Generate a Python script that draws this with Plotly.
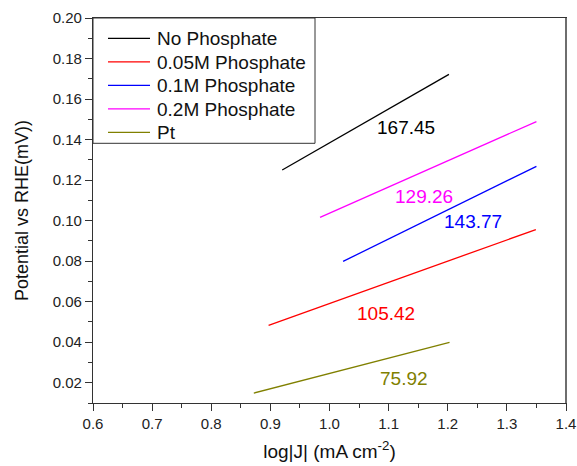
import plotly.graph_objects as go

series_names = ["No Phosphate", "0.05M Phosphate", "0.1M Phosphate", "0.2M Phosphate", "Pt"]
series_colors = ["#000000", "#ff0000", "#0000ff", "#ff00ff", "#808000"]
x_no_phos = [0.920, 1.202]
y_no_phos = [0.1250, 0.1722]
x_005 = [0.897, 1.349]
y_005 = [0.0483, 0.0956]
x_01 = [1.023, 1.350]
y_01 = [0.0799, 0.1268]
x_02 = [0.984, 1.350]
y_02 = [0.1016, 0.1489]
x_pt = [0.872, 1.203]
y_pt = [0.0149, 0.0399]

slope_labels = ["167.45", "105.42", "143.77", "129.26", "75.92"]
label_x = [1.130, 1.095, 1.242, 1.160, 1.126]
label_y = [0.146, 0.0544, 0.0994, 0.112, 0.022]

xs = [x_no_phos, x_005, x_01, x_02, x_pt]
ys = [y_no_phos, y_005, y_01, y_02, y_pt]

W, H = 577, 466
ML, MR, MT, MB = 93, 11, 18, 63
PW, PH = W - ML - MR, H - MT - MB


def px_x(p):
    return (p - ML) / PW


def px_y(p):
    return (H - MB - p) / PH


fig = go.Figure()
for name, color, x, y in zip(series_names, series_colors, xs, ys):
    fig.add_trace(go.Scatter(x=x, y=y, mode="lines", name=name, showlegend=False,
                             line=dict(color=color, width=1.3)))

for txt, color, lx, ly in zip(slope_labels, series_colors, label_x, label_y):
    fig.add_annotation(x=lx, y=ly, text=txt, showarrow=False,
                       font=dict(color=color, size=19, family="Liberation Sans, Arial"))

# legend box (drawn manually to match the reference's compact layout)
fig.add_shape(type="rect", xref="paper", yref="paper",
              x0=px_x(ML), x1=px_x(315), y0=px_y(143.3), y1=px_y(MT),
              line=dict(color="#333333", width=1), fillcolor="white", layer="above")
row_y = [38.3, 61.8, 85.3, 108.8, 132.3]
for name, color, ry in zip(series_names, series_colors, row_y):
    fig.add_shape(type="line", xref="paper", yref="paper",
                  x0=px_x(108), x1=px_x(150), y0=px_y(ry), y1=px_y(ry),
                  line=dict(color=color, width=1.3), layer="above")
    fig.add_annotation(xref="paper", yref="paper", x=px_x(155), y=px_y(ry + 0.5),
                       xanchor="left", yanchor="middle", text=name, showarrow=False,
                       font=dict(size=19, color="#111111", family="Liberation Sans, Arial"))

# grey right frame edge as in the reference
fig.add_shape(type="line", xref="paper", yref="paper", x0=1, x1=1, y0=0, y1=1,
              line=dict(color="#6e6e6e", width=2), layer="above")

axis_common = dict(showline=True, linecolor="#333333", linewidth=1.3, mirror=True,
                   ticks="outside", ticklen=7, tickwidth=1.2, tickcolor="#333333",
                   showgrid=False, zeroline=False, automargin=False,
                   tickfont=dict(size=15, color="#222222"))

fig.update_xaxes(range=[0.6, 1.4], tick0=0.6, dtick=0.1, tickformat=".1f",
                 minor=dict(ticks="outside", ticklen=4, dtick=0.05, tick0=0.6, tickcolor="#333333"),
                 title=dict(text="log|J| (mA cm<sup>-2</sup>)", font=dict(size=19, color="#111111"), standoff=13),
                 **axis_common)
fig.update_yaxes(range=[0.01, 0.20], tick0=0.0, dtick=0.02, tickformat=".2f",
                 minor=dict(ticks="outside", ticklen=4, dtick=0.01, tick0=0.0, tickcolor="#333333"),
                 title=dict(text="Potential vs RHE(mV))", font=dict(size=18, color="#111111"), standoff=19),
                 **axis_common)

fig.update_layout(
    width=W, height=H,
    margin=dict(l=ML, r=MR, t=MT, b=MB),
    paper_bgcolor="white", plot_bgcolor="white",
    font=dict(family="Liberation Sans, Arial", color="#111111"),
    showlegend=False,
)

fig.write_html("out.html", config={"displayModeBar": False},
               post_script="document.body.style.margin='0';document.body.style.overflow='hidden';")
